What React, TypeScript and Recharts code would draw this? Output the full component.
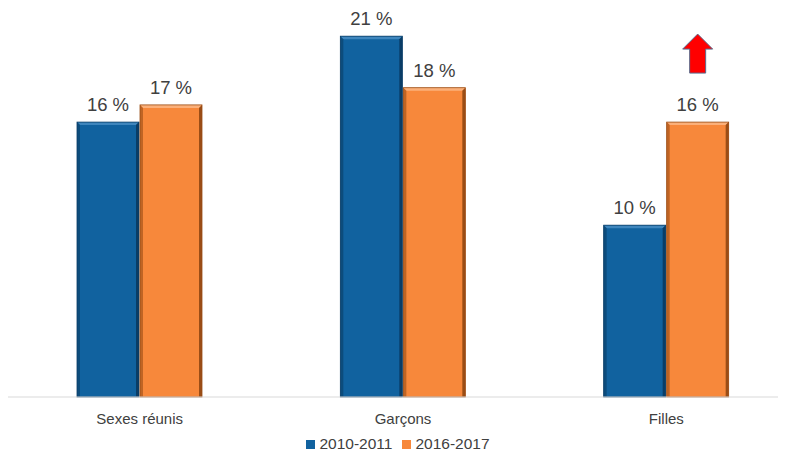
import React from "react";
import { BarChart, Bar, XAxis, YAxis, Legend, LabelList } from "recharts";

const categories = ["Sexes réunis", "Garçons", "Filles"];
const serie2010 = [16, 21, 10];
const serie2016 = [17, 18, 16];
const hausse = [false, false, true];

const BLUE = "#11629f";
const ORANGE = "#f7883b";

const data = categories.map((c, i) => ({ cat: c, a: serie2010[i], b: serie2016[i], up: hausse[i] }));

function BevelBar(props: any) {
  const { x, y, width, height, fill, dark, light } = props;
  if (!height || height <= 0) return null;
  const b = 3;
  return (
    <g>
      <rect x={x} y={y} width={width} height={height} fill={fill} />
      <polygon points={`${x},${y} ${x + width},${y} ${x + width - b},${y + b} ${x + b},${y + b}`} fill={light} />
      <polygon points={`${x + width},${y} ${x + width},${y + height} ${x + width - b},${y + height} ${x + width - b},${y + b}`} fill={dark} />
      <polygon points={`${x},${y} ${x + b},${y + b} ${x + b},${y + height} ${x},${y + height}`} fill={dark} opacity={0.6} />
      <rect x={x} y={y} width={width} height={height} fill="none" stroke={dark} strokeWidth={0.8} />
    </g>
  );
}

function pctLabel(props: any) {
  const { x, y, width, value } = props;
  return (
    <text x={x + width / 2} y={y - 11} textAnchor="middle" fontSize={18.5} fill="#404040">
      {value} %
    </text>
  );
}

function orangeLabel(props: any) {
  const { x, y, width, index } = props;
  const cx = x + width / 2;
  const top = y - 88;
  return (
    <g>
      {pctLabel(props)}
      {hausse[index] && (
        <polygon
          points={`${cx},${top} ${cx + 15},${top + 15} ${cx + 8},${top + 15} ${cx + 8},${top + 39} ${cx - 8},${top + 39} ${cx - 8},${top + 15} ${cx - 15},${top + 15}`}
          fill="#ff0000"
          stroke="#5a6b8c"
          strokeWidth={1}
        />
      )}
    </g>
  );
}

export default function App() {
  return (
    <div style={{ fontFamily: "'Liberation Sans', Arial, sans-serif" }}>
      <BarChart
        width={790}
        height={445}
        data={data}
        margin={{ top: 11, right: 0, bottom: 0, left: 0 }}
        barGap={1}
        barSize={62}
      >
        <XAxis
          dataKey="cat"
          axisLine={{ stroke: "#d9d9d9" }}
          tickLine={false}
          tick={{ fill: "#404040", fontSize: 15 }}
          tickMargin={10}
          height={38}
        />
        <YAxis hide domain={[0, 22]} />
        <Legend
          verticalAlign="bottom"
          iconType="square"
          iconSize={9}
          wrapperStyle={{ fontSize: 15.5, color: "#404040", paddingLeft: 0 }}
          formatter={(v) => <span style={{ color: "#404040" }}>{v}</span>}
        />
        <Bar
          dataKey="a"
          name="2010-2011"
          fill={BLUE}
          isAnimationActive={false}
          shape={(p: any) => <BevelBar {...p} fill={BLUE} dark="#0a3d66" light="#3f86bd" />}
        >
          <LabelList dataKey="a" content={pctLabel} />
        </Bar>
        <Bar
          dataKey="b"
          name="2016-2017"
          fill={ORANGE}
          isAnimationActive={false}
          shape={(p: any) => <BevelBar {...p} fill={ORANGE} dark="#9a4d16" light="#fbb07a" />}
        >
          <LabelList dataKey="b" content={orangeLabel} />
        </Bar>
      </BarChart>
    </div>
  );
}
